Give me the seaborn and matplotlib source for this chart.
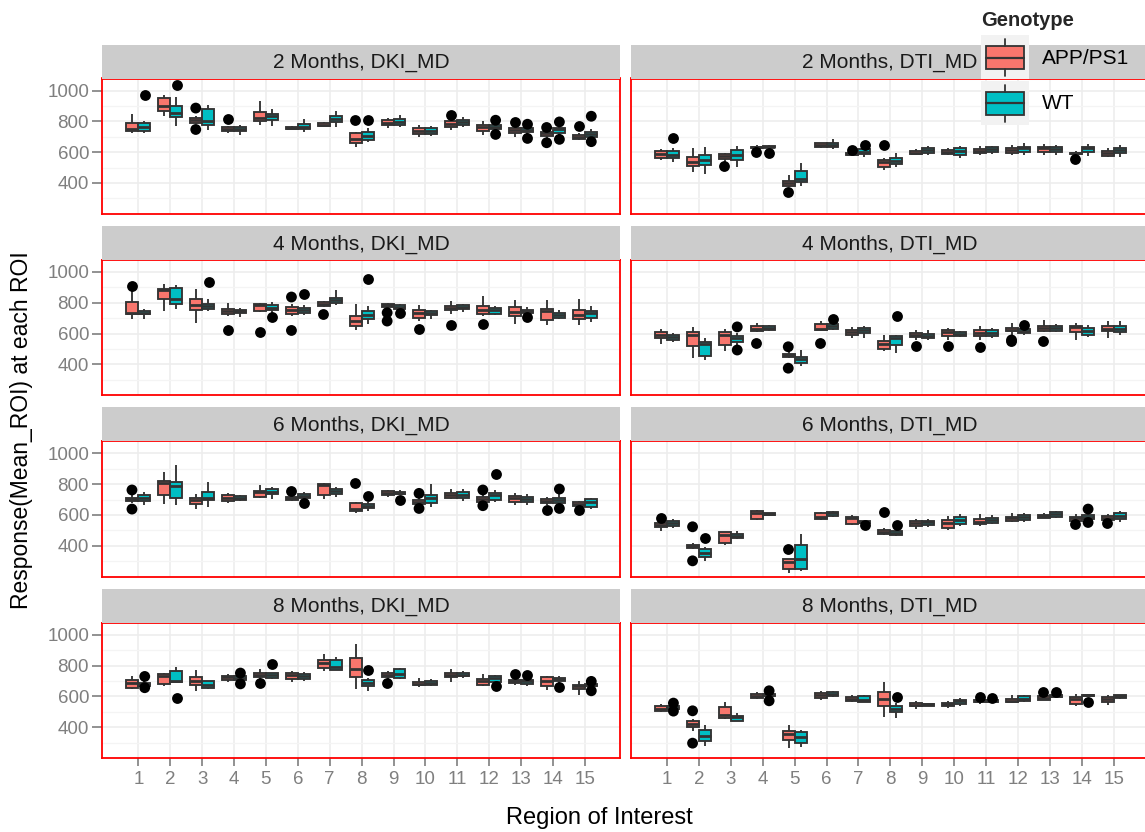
import numpy as np
import pandas as pd
import matplotlib
matplotlib.use("Agg")
import matplotlib.pyplot as plt
import seaborn as sns
from matplotlib.patches import Rectangle
from matplotlib.ticker import FixedLocator

# ---------------------------------------------------------------- data
REGIONS = [str(i) for i in range(1, 16)]
GENOTYPES = ["APP/PS1", "WT"]
GENO_CODE = {"A": "APP/PS1", "W": "WT"}
MONTHS = ["2 Months", "4 Months", "6 Months", "8 Months"]
MEASURES = ["DKI_MD", "DTI_MD"]
Y_MAJOR = [400, 600, 800, 1000]
Y_MINOR = [300, 500, 700, 900]

# each box: (lower whisker, Q1, median, Q3, upper whisker), regions 1..15
M2_DKI_APP = [(721, 739, 750, 790, 846), (833, 867, 897, 953, 972), (785, 790, 807, 824, 835),
              (726, 739, 749, 760, 769), (779, 803, 822, 861, 931), (745, 747, 756, 766, 768),
              (760, 769, 777, 786, 796), (636, 661, 687, 721, 732), (754, 775, 792, 807, 824),
              (700, 715, 739, 754, 775), (743, 760, 782, 801, 811), (711, 739, 760, 775, 801),
              (700, 721, 743, 754, 769), (689, 704, 721, 732, 747), (679, 687, 700, 711, 721)]
M2_DKI_WT = [(721, 737, 760, 786, 800), (769, 829, 854, 899, 957), (743, 775, 801, 878, 904),
             (711, 737, 751, 764, 775), (769, 811, 833, 850, 882), (732, 747, 764, 781, 818),
             (760, 794, 816, 833, 865), (664, 679, 706, 732, 754), (764, 775, 796, 813, 839),
             (704, 715, 739, 758, 771), (760, 775, 794, 807, 829), (739, 747, 760, 775, 786),
             (717, 732, 745, 754, 769), (711, 726, 747, 758, 786), (689, 700, 715, 732, 747)]
M2_DKI_OUT = [(1, "W", 972), (2, "W", 1036), (3, "A", 886), (3, "A", 747), (4, "A", 814),
              (8, "A", 811), (8, "W", 807), (11, "A", 839), (12, "W", 807), (12, "W", 715),
              (13, "A", 796), (13, "W", 781), (13, "W", 689), (14, "A", 760), (14, "A", 661),
              (14, "W", 796), (14, "W", 683), (15, "A", 769), (15, "W", 833), (15, "W", 668)]

M2_DTI_APP = [(550, 561, 586, 608, 619), (469, 511, 539, 571, 625), (539, 556, 576, 589, 593),
              (618, 625, 631, 636, 646), (373, 383, 400, 411, 454), (625, 631, 646, 657, 661),
              (578, 582, 590, 597, 600), (486, 503, 533, 550, 561), (582, 586, 597, 608, 619),
              (582, 589, 601, 614, 625), (582, 593, 608, 619, 640), (582, 593, 617, 629, 646),
              (582, 604, 625, 636, 653), (582, 586, 593, 597, 608), (567, 576, 593, 608, 625)]
M2_DTI_WT = [(539, 561, 582, 610, 625), (458, 518, 550, 582, 636), (503, 550, 582, 614, 640),
             (628, 631, 636, 640, 646), (383, 404, 426, 475, 529), (619, 631, 646, 657, 685),
             (571, 586, 604, 619, 632), (503, 522, 544, 561, 593), (582, 593, 614, 629, 640),
             (561, 582, 608, 629, 640), (589, 599, 619, 631, 640), (582, 604, 625, 636, 657),
             (582, 604, 621, 636, 646), (576, 604, 625, 636, 651), (571, 593, 614, 629, 646)]
M2_DTI_OUT = [(1, "W", 689), (3, "A", 511), (4, "A", 604), (4, "W", 593), (5, "A", 340),
              (7, "A", 614), (7, "W", 646), (8, "A", 646), (14, "A", 556)]

M4_DKI_APP = [(696, 724, 735, 805, 880), (744, 826, 880, 891, 924), (670, 750, 787, 822, 891),
              (714, 724, 744, 761, 798), (740, 744, 783, 794, 798), (711, 724, 750, 772, 794),
              (772, 779, 792, 805, 811), (620, 648, 681, 711, 794), (766, 772, 783, 794, 798),
              (681, 703, 735, 755, 787), (729, 750, 766, 779, 811), (711, 729, 755, 779, 844),
              (659, 714, 740, 772, 816), (653, 685, 744, 761, 816), (653, 692, 722, 750, 822)]
M4_DKI_WT = [(696, 724, 735, 746, 761), (757, 794, 826, 898, 913), (744, 761, 776, 794, 826),
             (707, 735, 746, 755, 766), (729, 750, 766, 783, 805), (718, 735, 755, 766, 783),
             (783, 800, 816, 831, 881), (664, 692, 720, 746, 776), (744, 761, 772, 783, 794),
             (696, 718, 733, 744, 755), (740, 757, 770, 783, 790), (718, 729, 750, 766, 779),
             (714, 735, 746, 755, 772), (696, 703, 718, 735, 750), (675, 703, 735, 746, 779)]
M4_DKI_OUT = [(1, "A", 907), (3, "W", 935), (4, "A", 620), (5, "A", 609), (5, "W", 707),
              (6, "A", 837), (6, "A", 620), (6, "W", 859), (7, "A", 724), (8, "W", 952),
              (9, "A", 735), (9, "A", 681), (9, "W", 735), (10, "A", 631), (11, "A", 657),
              (12, "A", 664), (13, "W", 707)]

M4_DTI_APP = [(533, 572, 593, 608, 632), (439, 519, 593, 608, 640), (486, 523, 589, 608, 632),
              (608, 615, 632, 651, 668), (439, 448, 459, 469, 486), (615, 621, 632, 662, 679),
              (572, 593, 608, 625, 640), (486, 501, 529, 551, 593), (555, 576, 589, 604, 625),
              (561, 587, 608, 621, 636), (561, 587, 604, 625, 651), (583, 615, 625, 636, 668),
              (608, 619, 636, 651, 685), (555, 608, 640, 651, 668), (572, 615, 632, 651, 679)]
M4_DTI_WT = [(544, 557, 576, 589, 604), (426, 454, 529, 544, 568), (525, 546, 568, 583, 604),
             (619, 625, 636, 647, 653), (386, 407, 433, 450, 491), (625, 632, 647, 662, 679),
             (572, 604, 621, 636, 651), (476, 523, 568, 583, 593), (561, 572, 587, 600, 625),
             (576, 583, 598, 610, 619), (572, 583, 604, 621, 636), (593, 604, 619, 632, 647),
             (608, 615, 636, 647, 662), (578, 593, 615, 636, 657), (593, 608, 632, 647, 679)]
M4_DTI_OUT = [(3, "W", 643), (3, "W", 493), (4, "A", 540), (5, "A", 514), (5, "A", 375),
              (6, "A", 540), (6, "W", 694), (8, "W", 711), (9, "A", 519), (10, "A", 519),
              (11, "A", 512), (12, "A", 558), (12, "A", 548), (12, "W", 653), (13, "A", 551)]

M6_DKI_APP = [(675, 690, 701, 712, 729), (671, 729, 809, 822, 876), (636, 668, 697, 712, 733),
              (675, 690, 707, 729, 740), (707, 714, 751, 757, 794), (690, 697, 707, 718, 733),
              (701, 729, 794, 799, 805), (610, 625, 638, 679, 686), (714, 729, 742, 755, 762),
              (653, 668, 682, 697, 718), (701, 707, 729, 740, 766), (668, 686, 703, 718, 740),
              (664, 686, 707, 723, 740), (664, 679, 690, 701, 718), (653, 660, 671, 682, 690)]
M6_DKI_WT = [(664, 692, 712, 729, 751), (664, 712, 788, 816, 924), (653, 697, 712, 746, 812),
             (690, 697, 707, 723, 729), (701, 733, 746, 768, 783), (697, 707, 723, 733, 746),
             (714, 733, 755, 768, 783), (625, 642, 658, 671, 686), (729, 733, 744, 751, 762),
             (653, 679, 712, 729, 801), (690, 707, 729, 746, 766), (686, 697, 729, 740, 762),
             (664, 686, 701, 718, 733), (664, 679, 697, 712, 733), (638, 653, 682, 701, 707)]
M6_DKI_OUT = [(1, "A", 762), (1, "A", 638), (6, "A", 755), (6, "W", 679), (8, "A", 805),
              (8, "W", 723), (9, "W", 697), (10, "A", 740), (10, "A", 642), (12, "A", 762),
              (12, "A", 660), (12, "W", 863), (14, "A", 632), (14, "W", 768), (14, "W", 642),
              (15, "A", 632)]

M6_DTI_APP = [(495, 519, 534, 545, 560), (382, 387, 398, 408, 415), (408, 419, 469, 486, 491),
              (567, 573, 610, 625, 632), (226, 252, 296, 311, 317), (567, 573, 588, 610, 621),
              (534, 541, 577, 588, 599), (469, 476, 491, 502, 512), (508, 530, 545, 560, 571),
              (502, 517, 545, 567, 593), (530, 538, 551, 571, 603), (551, 560, 577, 588, 610),
              (577, 582, 593, 599, 610), (556, 562, 577, 588, 603), (560, 567, 582, 593, 603)]
M6_DTI_WT = [(512, 530, 545, 560, 573), (302, 328, 356, 378, 393), (443, 452, 463, 473, 495),
             (599, 599, 603, 610, 610), (237, 252, 311, 408, 473), (588, 595, 610, 616, 625),
             (545, 548, 553, 560, 562), (465, 469, 484, 495, 512), (523, 534, 551, 560, 571),
             (528, 538, 567, 588, 603), (538, 545, 567, 582, 599), (556, 567, 584, 599, 610),
             (577, 584, 606, 616, 625), (567, 573, 588, 599, 610), (556, 573, 593, 610, 625)]
M6_DTI_OUT = [(1, "A", 582), (2, "A", 523), (2, "A", 302), (2, "W", 447), (5, "A", 378),
              (7, "W", 536), (8, "A", 616), (8, "W", 534), (14, "A", 541), (14, "W", 638),
              (14, "W", 551), (15, "A", 549)]

M8_DKI_APP = [(649, 653, 686, 707, 729), (668, 681, 729, 744, 751), (632, 675, 697, 723, 772),
              (692, 703, 723, 729, 744), (707, 723, 740, 751, 777), (690, 714, 736, 751, 762),
              (766, 783, 816, 837, 874), (649, 723, 777, 848, 941), (714, 723, 740, 751, 762),
              (658, 671, 681, 692, 718), (692, 723, 736, 751, 777), (664, 675, 697, 714, 744),
              (675, 686, 697, 707, 723), (642, 664, 701, 723, 729), (610, 649, 664, 675, 697)]
M8_DKI_WT = [(664, 668, 679, 686, 697), (686, 692, 697, 762, 788), (649, 653, 675, 697, 701),
             (701, 707, 718, 729, 736), (714, 718, 736, 751, 751), (697, 714, 731, 746, 757),
             (768, 768, 788, 837, 855), (632, 668, 686, 707, 718), (714, 718, 744, 779, 783),
             (668, 675, 686, 697, 712), (718, 729, 740, 751, 762), (685, 690, 720, 729, 740),
             (668, 679, 697, 707, 723), (686, 697, 712, 718, 729), (658, 664, 671, 679, 686)]
M8_DKI_OUT = [(1, "W", 729), (1, "W", 656), (2, "W", 588), (4, "W", 751), (4, "W", 681),
              (5, "A", 686), (5, "W", 809), (8, "W", 768), (9, "A", 686), (12, "W", 667),
              (13, "A", 744), (13, "W", 736), (14, "W", 658), (15, "W", 697), (15, "W", 636)]

M8_DTI_APP = [(497, 502, 517, 534, 549), (376, 404, 421, 437, 454), (450, 458, 480, 528, 562),
              (584, 588, 603, 616, 627), (263, 317, 356, 378, 411), (573, 588, 606, 621, 636),
              (562, 567, 582, 595, 610), (469, 538, 582, 627, 690), (519, 534, 545, 556, 567),
              (523, 534, 547, 556, 567), (549, 560, 567, 577, 599), (556, 560, 571, 584, 606),
              (573, 577, 588, 599, 606), (540, 549, 580, 595, 614), (545, 560, 580, 595, 610)]
M8_DTI_WT = [(515, 519, 525, 540, 545), (280, 311, 340, 382, 415), (437, 441, 463, 474, 495),
             (593, 599, 606, 614, 621), (274, 297, 334, 367, 384), (593, 599, 614, 625, 632),
             (560, 560, 573, 603, 606), (458, 497, 517, 538, 556), (534, 540, 547, 551, 556),
             (534, 551, 567, 577, 588), (556, 562, 571, 577, 588), (562, 571, 582, 603, 610),
             (588, 593, 601, 610, 621), (593, 599, 606, 610, 616), (582, 590, 599, 606, 610)]
M8_DTI_OUT = [(1, "W", 556), (1, "W", 504), (2, "A", 506), (2, "A", 296), (4, "W", 636),
              (4, "W", 571), (8, "W", 595), (11, "A", 595), (11, "W", 590), (13, "A", 625),
              (13, "W", 625), (14, "W", 562)]

PANELS = {
    ("2 Months", "DKI_MD"): (M2_DKI_APP, M2_DKI_WT, M2_DKI_OUT),
    ("2 Months", "DTI_MD"): (M2_DTI_APP, M2_DTI_WT, M2_DTI_OUT),
    ("4 Months", "DKI_MD"): (M4_DKI_APP, M4_DKI_WT, M4_DKI_OUT),
    ("4 Months", "DTI_MD"): (M4_DTI_APP, M4_DTI_WT, M4_DTI_OUT),
    ("6 Months", "DKI_MD"): (M6_DKI_APP, M6_DKI_WT, M6_DKI_OUT),
    ("6 Months", "DTI_MD"): (M6_DTI_APP, M6_DTI_WT, M6_DTI_OUT),
    ("8 Months", "DKI_MD"): (M8_DKI_APP, M8_DKI_WT, M8_DKI_OUT),
    ("8 Months", "DTI_MD"): (M8_DTI_APP, M8_DTI_WT, M8_DTI_OUT),
}

# long tables built from the arrays
box_rows, out_rows = [], []
for (month, measure), (app, wt, outs) in PANELS.items():
    for geno, boxes in zip(GENOTYPES, (app, wt)):
        for region, five in zip(REGIONS, boxes):
            for v in five:
                box_rows.append((month, measure, region, geno, v))
    for region, code, v in outs:
        out_rows.append((month, measure, str(region), GENO_CODE[code], v))
cols = ["Month", "Measure", "Region", "Genotype", "Value"]
boxes_df = pd.DataFrame(box_rows, columns=cols)
outs_df = pd.DataFrame(out_rows, columns=cols)

# ---------------------------------------------------------------- style
sns.set_theme(style="white")
plt.rcParams["font.family"] = ["Liberation Sans", "DejaVu Sans"]

PALETTE = {"APP/PS1": "#F8766D", "WT": "#00BFC4"}
EDGE = "#333333"
GREY_TXT = "#7F7F7F"
W, H = 1145, 832

fig = plt.figure(figsize=(W / 100, H / 100), dpi=100, facecolor="white")

COL_X = [102.3, 631.0]
PANEL_W = 517.7
ROW_TOP = [78.5, 259.9, 441.3, 622.7]
PANEL_H = 135.4
STRIP_H = 34.0


def frac_rect(x0, top, w, h):
    return [x0 / W, 1 - (top + h) / H, w / W, h / H]


for r, month in enumerate(MONTHS):
    for c, measure in enumerate(MEASURES):
        ax = fig.add_axes(frac_rect(COL_X[c], ROW_TOP[r], PANEL_W, PANEL_H))
        d = boxes_df[(boxes_df.Month == month) & (boxes_df.Measure == measure)]
        o = outs_df[(outs_df.Month == month) & (outs_df.Measure == measure)]
        sns.boxplot(data=d, x="Region", y="Value", hue="Genotype", order=REGIONS,
                    hue_order=GENOTYPES, palette=PALETTE, saturation=1, whis=(0, 100),
                    width=0.75, gap=0, linewidth=1.35, linecolor=EDGE, showfliers=False,
                    legend=False, ax=ax,
                    medianprops=dict(linewidth=2.0, color=EDGE),
                    capprops=dict(linewidth=0))
        sns.stripplot(data=o, x="Region", y="Value", hue="Genotype", order=REGIONS,
                      hue_order=GENOTYPES, dodge=True, jitter=False,
                      palette={"APP/PS1": "black", "WT": "black"}, size=7.8,
                      linewidth=0, legend=False, ax=ax, zorder=5)
        ax.set_xlim(-1.13, 15.1)
        ax.set_ylim(199, 1078)
        ax.set_xlabel("")
        ax.set_ylabel("")
        ax.set_facecolor("white")
        ax.set_axisbelow(True)
        ax.yaxis.set_major_locator(FixedLocator(Y_MAJOR))
        ax.yaxis.set_minor_locator(FixedLocator(Y_MINOR))
        ax.grid(True, which="major", color="#EDEDED", linewidth=1.2)
        ax.grid(True, which="minor", axis="y", color="#F4F4F4", linewidth=0.9)
        for sp in ax.spines.values():
            sp.set_visible(True)
            sp.set_color("#FF0000")
            sp.set_linewidth(1.3)
        ax.tick_params(axis="y", which="minor", length=0)
        if c == 0:
            ax.tick_params(axis="y", which="major", length=7.5, width=1.2, color=GREY_TXT,
                           labelcolor=GREY_TXT, labelsize=13.5, pad=2, left=True)
        else:
            ax.tick_params(axis="y", which="major", length=0, labelleft=False)
        if r == len(MONTHS) - 1:
            ax.tick_params(axis="x", length=5.5, width=1.2, color=GREY_TXT,
                           labelcolor=GREY_TXT, labelsize=13.5, pad=4, bottom=True)
        else:
            ax.tick_params(axis="x", length=0, labelbottom=False)

        # facet strip
        sax = fig.add_axes(frac_rect(COL_X[c], ROW_TOP[r] - STRIP_H, PANEL_W, STRIP_H))
        sax.set_facecolor("#CCCCCC")
        sax.set_xticks([])
        sax.set_yticks([])
        for sp in sax.spines.values():
            sp.set_visible(False)
        sax.text(0.5, 0.47, f"{month}, {measure}", ha="center", va="center",
                 fontsize=15, color="#1A1A1A", transform=sax.transAxes)

# axis titles
fig.text(599 / W, 1 - 818 / H, "Region of Interest", ha="center", va="center",
         fontsize=17, color="black")
fig.text(22 / W, 1 - 430 / H, "Response(Mean_ROI) at each ROI", ha="center",
         va="center", rotation=90, fontsize=16.5, color="black")

# legend (drawn on top, pixel coordinates)
ov = fig.add_axes([0, 0, 1, 1], zorder=20)
ov.set_xlim(0, W)
ov.set_ylim(H, 0)
ov.axis("off")
ov.patch.set_alpha(0)
ov.text(981, 20, "Genotype", fontweight="bold", fontsize=14.5, ha="left", va="center")
for i, g in enumerate(GENOTYPES):
    y0 = 35 + i * 45.5
    ov.add_patch(Rectangle((981, y0), 48, 44, facecolor="#F2F2F2", edgecolor="none"))
    ov.add_patch(Rectangle((986, y0 + 11), 38, 23, facecolor=PALETTE[g],
                           edgecolor=EDGE, linewidth=1.3))
    ov.plot([986, 1024], [y0 + 22.5, y0 + 22.5], color=EDGE, linewidth=1.6)
    ov.plot([1005, 1005], [y0 + 4, y0 + 11], color=EDGE, linewidth=1.3)
    ov.plot([1005, 1005], [y0 + 34, y0 + 41], color=EDGE, linewidth=1.3)
    ov.text(1042, y0 + 23, g, fontsize=15, ha="left", va="center", color="black")

fig.savefig("out.png", dpi=100, facecolor="white")
